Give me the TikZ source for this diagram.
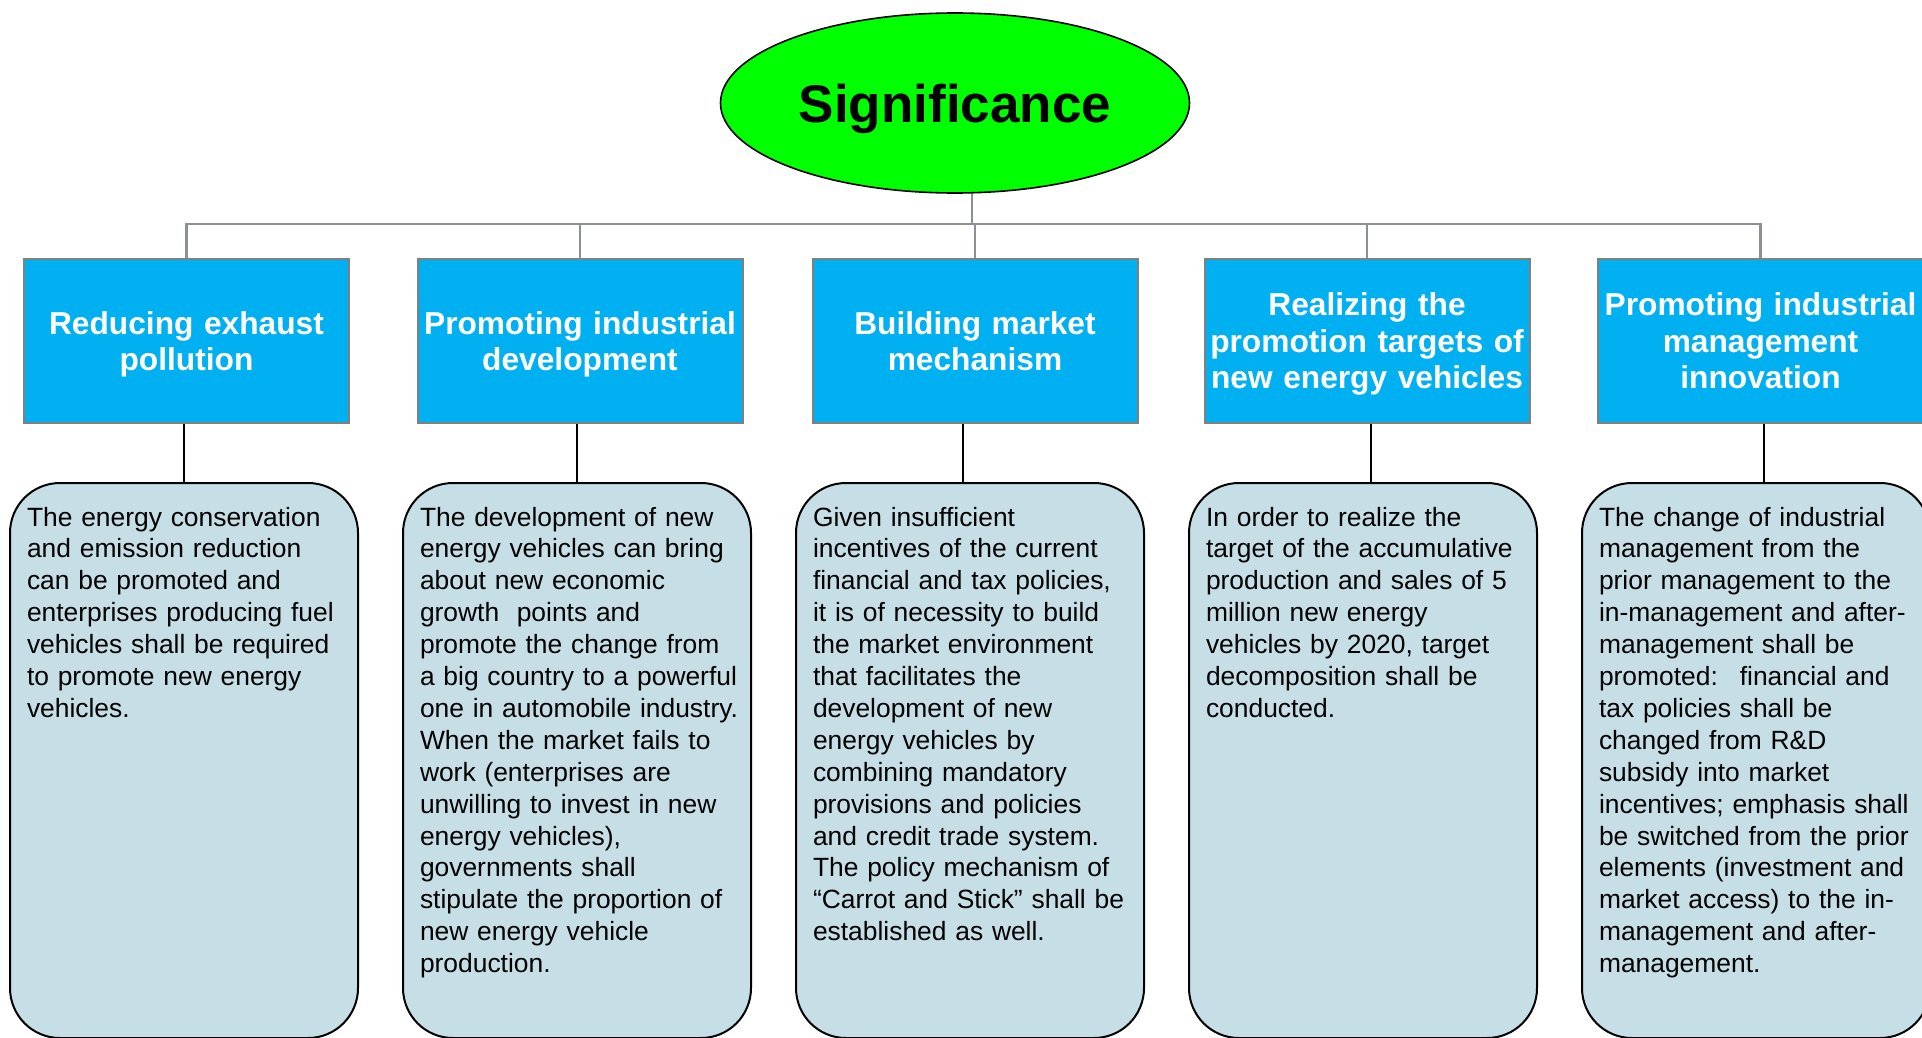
\documentclass[tikz,border=0pt]{standalone}
\usepackage{fontspec}
\setmainfont{Liberation Sans}
\usetikzlibrary{shapes.geometric}
\definecolor{headgreen}{RGB}{0,255,0}
\definecolor{aimblue}{RGB}{0,176,240}
\definecolor{notefill}{RGB}{198,223,230}
\definecolor{treegray}{RGB}{140,144,150}
\definecolor{framegray}{RGB}{128,128,128}

\begin{document}
\begin{tikzpicture}[x = 0.5pt, y = -0.5pt,
		head/.style = {ellipse, draw, line width = 0.8pt, fill = headgreen, minimum width = 234.5pt, minimum height = 90pt, inner sep = 0pt, text depth = 0pt, font = \fontsize{26.5}{30}\selectfont\bfseries},
		aim/.style = {draw = framegray, line width = 1pt, fill = aimblue, text = white, anchor = north, minimum width = 162.5pt, minimum height = 82pt, inner sep = 0pt, text width = 160pt, align = center, font = \fontsize{15.85}{18.25}\selectfont\bfseries},
		note/.style = {draw, line width = 1pt, fill = notefill, rounded corners = 25pt, anchor = north, inner xsep = 8.5pt, inner ysep = 0pt, text width = 157pt, align = left, text height = 21.5pt, text depth = 256pt, font = \fontsize{13.2}{15.95}\selectfont,
			execute at begin node = {\rightskip = 0pt plus 2em minus 4pt\relax}},
		tree/.style = {treegray, line width = 1.2pt},
		link/.style = {line width = 0.75pt}]
		\useasboundingbox (0,0) rectangle (1922,1038);
		\clip (0,0) rectangle (1922,1038);

		% root and the five aims (descenders of the last line smashed so the
		% text sits in the middle of the box)
		\node[head] (sig) at (955,103) {Significance};
		\node[aim] (a1) at (186.5,258) {Reducing exhaust\\\smash{pollution}};
		\node[aim] (a2) at (580,258) {Promoting industrial\\\smash{development}};
		\node[aim] (a3) at (975,258) {Building market\\mechanism};
		\node[aim] (a4) at (1367,258) {Realizing the\\promotion targets of\\\smash{new energy vehicles}};
		\node[aim] (a5) at (1760.5,258) {Promoting industrial\\management\\innovation};

		\coordinate (hub) at (972,224);
		\draw[tree] ([xshift = 8.5pt]sig.south) -- (hub);
		\foreach \i in {1,...,5}
			\draw[tree] (hub) -| (a\i.north);

		% explanations under each aim
		\node[note] (n1) at (184,482) {The energy conservation\\and emission reduction\\can be promoted and\\enterprises producing fuel\\vehicles shall be required\\to promote new energy\\vehicles.};
		\node[note] (n2) at (577,482) {The development of new\\energy vehicles can bring\\about new economic\\growth~ points and\\promote the change from\\a big country to a powerful\\one in automobile industry.\\When the market fails to\\work (enterprises are\\unwilling to invest in new\\energy vehicles),\\governments shall\\stipulate the proportion of\\new energy vehicle\\production.};
		\node[note] (n3) at (970,482) {Given insufficient\\incentives of the current\\financial and tax policies,\\it is of necessity to build\\the market environment\\that facilitates the\\development of new\\energy vehicles by\\combining mandatory\\provisions and policies\\and credit trade system.\\The policy mechanism of\\“Carrot and Stick” shall be\\established as well.};
		\node[note] (n4) at (1363,482) {In order to realize the\\target of the accumulative\\production and sales of 5\\million new energy\\vehicles by 2020, target\\decomposition shall be\\conducted.};
		\node[note] (n5) at (1756,482) {The change of industrial\\management from the\\prior management to the\\in-management and after-\\management shall be\\promoted:~ financial and\\tax policies shall be\\changed from R\&D\\subsidy into market\\incentives; emphasis shall\\be switched from the prior\\elements (investment and\\market access) to the in-\\management and after-\\management.};

		\foreach \i/\dx in {1/0pt, 2/0pt, 3/-3.5pt, 4/4pt, 5/4pt}
			\draw[link] ([xshift = \dx]n\i.north) -- ([xshift = \dx]n\i.north |- a\i.south);
	\end{tikzpicture}
\end{document}
